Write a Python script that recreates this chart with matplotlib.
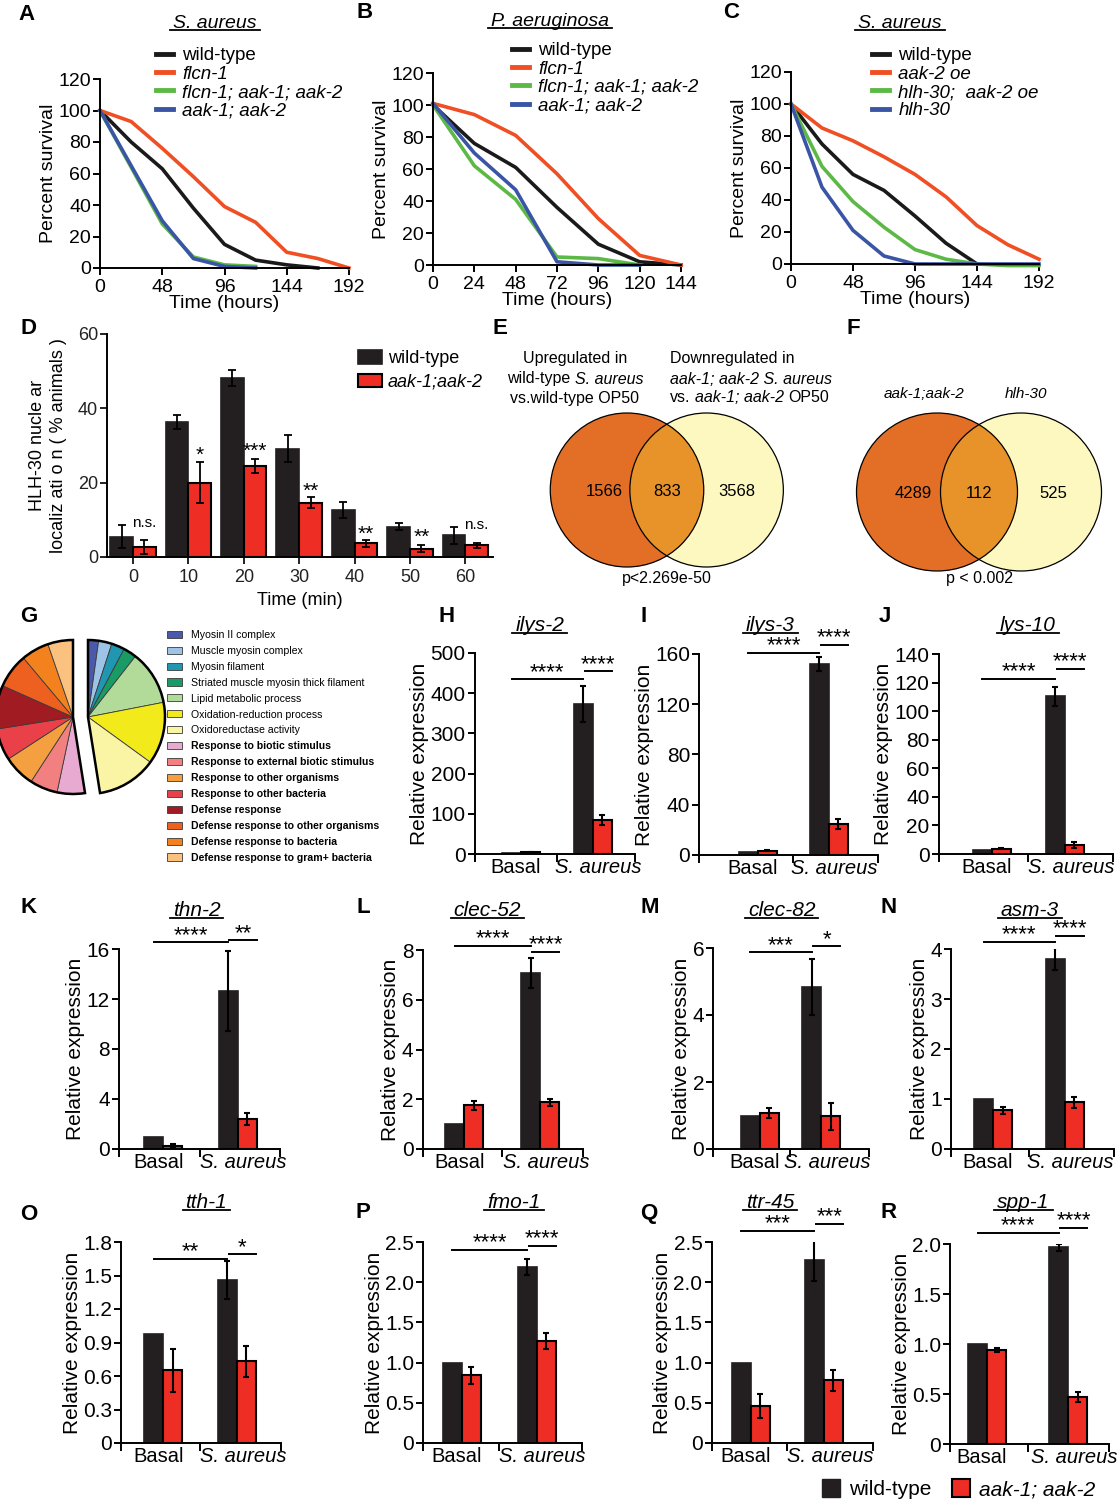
import numpy as np
import matplotlib
matplotlib.use("Agg")
import matplotlib.pyplot as plt
from matplotlib.patches import Ellipse, Patch
from matplotlib.lines import Line2D
from matplotlib.transforms import IdentityTransform

plt.rcParams['font.family'] = ['Liberation Sans', 'DejaVu Sans']
plt.rcParams['axes.linewidth'] = 1.4
for a in ('xtick', 'ytick'):
    plt.rcParams[a + '.major.width'] = 1.4
    plt.rcParams[a + '.major.size'] = 5
    plt.rcParams[a + '.major.pad'] = 1.5
    plt.rcParams[a + '.direction'] = 'out'

W, H = 1119, 1500
BLACK = '#231f20'
RED = '#ee2d24'
SURV_COLORS = ['#1a1a1a', '#f04e23', '#5cb946', '#3a55a5']

# ---------------- A-C: survival curves (percent alive vs hours) ----------------
a_t_wt = [0, 24, 48, 72, 96, 120, 144, 168]
a_wt = [100, 80, 63, 38, 15, 5, 2, 0]
a_t_flcn = [0, 24, 48, 72, 96, 120, 144, 168, 192]
a_flcn = [100, 93, 76, 58, 39, 29, 10, 6, 0]
a_t_triple = [0, 24, 48, 72, 96, 120]
a_triple = [100, 64, 28, 7, 2, 1]
a_t_aak = [0, 24, 48, 72, 96, 120]
a_aak = [100, 65, 30, 6, 1, 0]

b_t = [0, 24, 48, 72, 96, 120, 144]
b_wt = [100, 76, 61, 36, 13, 2, 0]
b_flcn = [101, 94, 81, 57, 29, 6, 0]
b_t_short = [0, 24, 48, 72, 96, 120]
b_triple = [100, 62, 41, 5, 4, 0]
b_aak = [101, 70, 47, 2, 0, 0]

c_t = [0, 24, 48, 72, 96, 120, 144, 168, 192]
c_t_wt = [0, 24, 48, 72, 96, 120, 144]
c_wt = [100, 75, 56, 46, 30, 13, 0]
c_oe = [100, 85, 77, 67, 56, 42, 24, 12, 3]
c_double = [100, 61, 39, 23, 9, 3, 0, -1, -1]
c_hlh = [100, 48, 21, 5, 0, 0, 0, 0, 0]

ab_labels = ['wild-type', 'flcn-1', 'flcn-1; aak-1; aak-2', 'aak-1; aak-2']
c_labels = ['wild-type', 'aak-2 oe', 'hlh-30;  aak-2 oe', 'hlh-30']

# ---------------- D: HLH-30 nuclear localization ----------------
d_times = [0, 10, 20, 30, 40, 50, 60]
d_wt = [5.5, 36.3, 48.2, 29.1, 12.7, 8.2, 5.9]
d_wt_err = [3.1, 1.8, 2.2, 3.6, 2.2, 0.9, 2.3]
d_aak = [2.7, 20.0, 24.5, 14.6, 3.7, 2.2, 3.1]
d_aak_err = [1.8, 5.5, 1.8, 1.5, 0.9, 0.9, 0.7]
d_sig = ['n.s.', '*', '***', '**', '**', '**', 'n.s.']
d_sig_y = [8.1, 26.0, 26.9, 16.3, 4.6, 3.8, 7.6]

# ---------------- E/F: Venn counts ----------------
e_counts = [1566, 833, 3568]
e_p = 'p<2.269e-50'
f_counts = [4289, 112, 525]
f_p = 'p < 0.002'

# ---------------- G: GO terms ----------------
go_terms = ['Myosin II complex', 'Muscle myosin complex', 'Myosin filament',
            'Striated muscle myosin thick filament', 'Lipid metabolic process',
            'Oxidation-reduction process', 'Oxidoreductase activity',
            'Response to biotic stimulus', 'Response to external biotic stimulus',
            'Response to other organisms', 'Response to other bacteria',
            'Defense response', 'Defense response to other organisms',
            'Defense response to bacteria', 'Defense response to gram+ bacteria']
go_deg = [8, 10, 10, 10, 41, 47, 45, 21, 21, 24, 24, 33, 26, 21, 19]
go_colors = ['#4b5aa8', '#9dc3e6', '#2196b0', '#1a9a64', '#b2db9a', '#f2ea1b', '#faf5a5',
             '#e8aad0', '#f28080', '#f5a040', '#e9404a', '#a01c22', '#ee6020', '#f3821e', '#fbc17e']

# ---------------- H-R: qPCR relative expression ----------------
genes = ['ilys-2', 'ilys-3', 'lys-10', 'thn-2', 'clec-52', 'clec-82', 'asm-3',
         'tth-1', 'fmo-1', 'ttr-45', 'spp-1']
conditions = ['Basal', 'S. aureus']
expr_wt = [[2, 373], [2, 152], [2.8, 110.3], [1.0, 12.66], [1.0, 7.06], [1.0, 4.84],
           [1.0, 3.81], [0.98, 1.46], [1.0, 2.19], [1.0, 2.28], [1.0, 1.97]]
expr_wt_err = [[0, 45], [0, 5.3], [0, 6.5], [0, 3.2], [0, 0.6], [0, 0.84], [0, 0.22],
               [0, 0.17], [0, 0.1], [0, 0.27], [0, 0.035]]
expr_mut = [[4, 85], [3.5, 24.7], [3.7, 6.3], [0.27, 2.4], [1.75, 1.87], [1.07, 0.98],
            [0.78, 0.94], [0.65, 0.73], [0.84, 1.27], [0.46, 0.78], [0.94, 0.47]]
expr_mut_err = [[1, 13], [0.5, 4], [0.5, 2], [0.1, 0.45], [0.17, 0.15], [0.15, 0.4],
                [0.07, 0.11], [0.19, 0.135], [0.1, 0.1], [0.145, 0.13], [0.02, 0.05]]
expr_ymax = [500, 160, 140, 16, 8, 6, 4, 1.8, 2.5, 2.5, 2.0]
expr_ystep = [100, 40, 20, 4, 2, 2, 1, 0.3, 0.5, 0.5, 0.5]
sig_long = ['****', '****', '****', '****', '****', '***', '****', '**', '****', '***', '****']
sig_short = ['****', '****', '****', '**', '****', '*', '****', '*', '****', '***', '****']
bracket_long = [435, 160.8, 122.7, 16.53, 8.17, 5.87, 4.14, 1.65, 2.40, 2.64, 2.11]
bracket_short = [455, 167.4, 129.7, 16.69, 7.92, 6.05, 4.27, 1.69, 2.45, 2.73, 2.16]

# panel placement in pixels: spine x, axis end x, y of 0, y of top, basal centre, S. aureus centre
expr_layout = [
    (474.7, 635.2, 854, 653, 521.0, 592.6),
    (699.4, 878.0, 855, 654, 757.6, 828.7),
    (938.7, 1113.0, 854, 654, 991.5, 1064.8),
    (118.9, 279.6, 1149, 949, 163.2, 237.5),
    (422.5, 583.2, 1149, 950, 464.3, 540.0),
    (713.3, 869.4, 1149, 948, 759.6, 821.3),
    (951.0, 1114.4, 1149, 949, 993.0, 1064.5),
    (121.4, 281.4, 1443, 1242, 163.2, 236.8),
    (423.2, 582.0, 1443, 1242, 461.7, 536.7),
    (711.5, 872.7, 1443, 1242, 750.7, 823.8),
    (950.4, 1109.0, 1444, 1244, 987.1, 1068.0),
]
expr_title_xy = [(539.8, 625), (770.5, 625), (1028, 625), (196.4, 910), (487.5, 910),
                 (781.7, 910), (1029.9, 910), (206.4, 1202), (514, 1202), (770.3, 1202),
                 (1023.5, 1202)]

fig = plt.figure(figsize=(W / 100, H / 100), dpi=100)
underlined = []


def fxy(x, y):
    return (x / W, 1 - y / H)


def add_ax(l, t, r, b):
    return fig.add_axes([l / W, 1 - b / H, (r - l) / W, (b - t) / H])


def clean(ax):
    ax.spines['top'].set_visible(False)
    ax.spines['right'].set_visible(False)


def title(x, y, s, size=15):
    t = fig.text(*fxy(x, y), s, fontsize=size, style='italic', ha='center', va='center')
    underlined.append(t)
    return t


def rich_line(x, y, parts, size, ha='left'):
    r = fig.canvas.get_renderer()
    space = 0.278 * size * fig.dpi / 72
    items = []
    cur = x
    for s, it in parts:
        t = fig.text(*fxy(cur, y), s, fontsize=size, style='italic' if it else 'normal',
                     ha='left', va='center')
        items.append((t, cur))
        cur += t.get_window_extent(renderer=r).width + space
    total = cur - space - x
    if ha == 'center':
        for t, x0 in items:
            t.set_x((x0 - total / 2) / W)


# ---------------- survival panels ----------------
def survival(box, xmax, xticks, curves, labels, ttl, ttl_xy, leg_xy):
    ax = add_ax(*box)
    lines = []
    for (t, y), c in zip(curves, SURV_COLORS):
        ln, = ax.plot(t, y, color=c, lw=2.6, clip_on=False, solid_joinstyle='round')
        lines.append(ln)
    ax.set_xlim(0, xmax)
    ax.set_ylim(0, 120)
    ax.set_xticks(xticks)
    ax.set_yticks(range(0, 121, 20))
    ax.tick_params(labelsize=14)
    ax.tick_params(axis='x', pad=3)
    ax.set_xlabel('Time (hours)', fontsize=14, labelpad=-1)
    ax.set_ylabel('Percent survival', fontsize=14, labelpad=1)
    clean(ax)
    leg = ax.legend(lines, labels, loc='upper left', bbox_to_anchor=fxy(*leg_xy),
                    bbox_transform=fig.transFigure, frameon=False, fontsize=13.5,
                    handlelength=0.9, handletextpad=0.5, labelspacing=0.07,
                    borderpad=0, borderaxespad=0)
    for t in leg.get_texts()[1:]:
        t.set_fontstyle('italic')
    for h in leg.legend_handles:
        h.set_linewidth(3.5)
    title(*ttl_xy, ttl, size=14)
    return ax


survival((100, 79, 349, 268), 192, [0, 48, 96, 144, 192],
         [(a_t_wt, a_wt), (a_t_flcn, a_flcn), (a_t_triple, a_triple), (a_t_aak, a_aak)],
         ab_labels, 'S. aureus', (215, 23), (156, 47))
survival((433, 73, 681, 265), 144, [0, 24, 48, 72, 96, 120, 144],
         [(b_t, b_wt), (b_t, b_flcn), (b_t_short, b_triple), (b_t_short, b_aak)],
         ab_labels, 'P. aeruginosa', (550, 21), (512, 42))
survival((791, 72, 1039, 264), 192, [0, 48, 96, 144, 192],
         [(c_t_wt, c_wt), (c_t, c_oe), (c_t, c_double), (c_t, c_hlh)],
         c_labels, 'S. aureus', (900, 23), (872, 47))

# ---------------- D ----------------
ax_d = add_ax(107, 334, 493, 557)
idx = np.arange(len(d_times))
bw = 0.41
b1 = ax_d.bar(idx - bw / 2, d_wt, bw, color=BLACK, edgecolor=BLACK, lw=1.2)
ax_d.errorbar(idx - bw / 2, d_wt, yerr=d_wt_err, fmt='none', ecolor='black',
              elinewidth=1.3, capsize=3, capthick=1.3)
b2 = ax_d.bar(idx + bw / 2, d_aak, bw, color=RED, edgecolor='black', lw=1.5)
ax_d.errorbar(idx + bw / 2, d_aak, yerr=d_aak_err, fmt='none', ecolor='black',
              elinewidth=1.3, capsize=3, capthick=1.3)
for i, s in enumerate(d_sig):
    ax_d.text(i + bw / 2, d_sig_y[i], s, ha='center', va='baseline',
              fontsize=15 if '*' in s else 11)
ax_d.set_xlim(-0.47, 6.5)
ax_d.set_ylim(0, 60)
ax_d.set_xticks(idx)
ax_d.set_xticklabels([str(t) for t in d_times])
ax_d.set_yticks([0, 20, 40, 60])
ax_d.tick_params(labelsize=13, colors='#222222')
ax_d.tick_params(axis='x', pad=4)
ax_d.set_xlabel('Time (min)', fontsize=13, labelpad=4)
ax_d.set_ylabel('HLH-30 nucle ar\nlocaliz ati o n ( % animals )', fontsize=13,
                labelpad=8, linespacing=1.25)
clean(ax_d)
leg_d = ax_d.legend([b1, b2], ['wild-type', 'aak-1;aak-2'], loc='upper left',
                    bbox_to_anchor=fxy(358, 350), bbox_transform=fig.transFigure,
                    frameon=False, fontsize=13, handlelength=1.35, handleheight=0.8,
                    handletextpad=0.3, labelspacing=0.35, borderpad=0, borderaxespad=0)
leg_d.get_texts()[1].set_fontstyle('italic')

# ---------------- E / F Venn ----------------
ORANGE, YELLOW, OVER = '#e36f26', '#fcf8c0', '#e8922a'
ax_v = add_ax(500, 330, 1119, 600)
ax_v.set_xlim(500, 1119)
ax_v.set_ylim(600, 330)
ax_v.axis('off')


def venn(c1, c2, size, counts, p, p_y):
    e1 = Ellipse(c1, *size, facecolor=ORANGE, edgecolor='none')
    ax_v.add_patch(e1)
    ax_v.add_patch(Ellipse(c2, *size, facecolor=YELLOW, edgecolor='none'))
    e3 = Ellipse(c2, *size, facecolor=OVER, edgecolor='none')
    ax_v.add_patch(e3)
    e3.set_clip_path(e1)
    for c in (c1, c2):
        ax_v.add_patch(Ellipse(c, *size, fill=False, edgecolor='black', lw=0.9))
    xs = [c1[0] - size[0] * 0.15, (c1[0] + c2[0]) / 2, c2[0] + size[0] * 0.2]
    for x, n in zip(xs, counts):
        ax_v.text(x, c1[1] + 2, str(n), fontsize=12, ha='center', va='center')
    ax_v.text((c1[0] + c2[0]) / 2, p_y, p, fontsize=11.5, ha='center', va='center')


venn((627, 490), (706.6, 490), (153.5, 154), e_counts, e_p, 579)
venn((937, 492), (1021, 492), (161, 158), f_counts, f_p, 579)

rich_line(575, 359, [('Upregulated in', False)], 11.5, 'center')
rich_line(575, 379, [('wild-type', False), ('S. aureus', True)], 11.5, 'center')
rich_line(575, 398, [('vs.wild-type OP50', False)], 11.5, 'center')
rich_line(670, 359, [('Downregulated in', False)], 11.5)
rich_line(670, 379, [('aak-1; aak-2 S. aureus', True)], 11.5)
rich_line(670, 398, [('vs.', False), ('aak-1; aak-2', True), ('OP50', False)], 11.5)
fig.text(*fxy(924, 394), 'aak-1;aak-2', fontsize=11, style='italic', ha='center', va='center')
fig.text(*fxy(1026, 394), 'hlh-30', fontsize=11, style='italic', ha='center', va='center')

# ---------------- G pie ----------------
ax_g = add_ax(0, 630, 175, 805)
n_r = 7
right = np.array(go_deg[:n_r]) / 360
left = np.array(go_deg[n_r:]) / 360
wp = dict(edgecolor='#3a3a3a', linewidth=0.6)
w_r, _ = ax_g.pie(right, normalize=False, colors=go_colors[:n_r], startangle=90,
                  counterclock=False, radius=77, center=(88, -717), wedgeprops=wp)
w_l, _ = ax_g.pie(left, normalize=False, colors=go_colors[n_r:],
                  startangle=90 - right.sum() * 360, counterclock=False, radius=77,
                  center=(73, -717), wedgeprops=wp)
ax_g.pie([right.sum()], normalize=False, startangle=90, counterclock=False, radius=77,
         center=(88, -717), wedgeprops=dict(fill=False, edgecolor='black', linewidth=1.8))
ax_g.pie([left.sum()], normalize=False, startangle=90 - right.sum() * 360,
         counterclock=False, radius=77, center=(73, -717),
         wedgeprops=dict(fill=False, edgecolor='black', linewidth=1.8))
ax_g.set_xlim(0, 175)
ax_g.set_ylim(-805, -630)
ax_g.axis('off')
leg_g = fig.legend(list(w_r) + list(w_l), go_terms, loc='upper left',
                   bbox_to_anchor=fxy(167, 630), frameon=False, fontsize=7.6,
                   handlelength=1.45, handleheight=0.66, handletextpad=0.8,
                   labelspacing=0.56, borderpad=0, borderaxespad=0)
for t in leg_g.get_texts()[n_r:]:
    t.set_fontweight('bold')

# ---------------- H-R expression bars ----------------
for i, g in enumerate(genes):
    sx, ex, y0, yt, cb, cs = expr_layout[i]
    sp = cs - cb
    ax = add_ax(sx, yt, ex, y0)
    x0 = 0.5 - (cb - sx) / sp
    x1 = 1.5 + (ex - cs) / sp
    w = 19 / sp
    centers = np.array([0.5, 1.5])
    ax.bar(centers - w / 2, expr_wt[i], w, color=BLACK, edgecolor=BLACK, lw=1.2)
    ax.bar(centers + w / 2, expr_mut[i], w, color=RED, edgecolor='black', lw=1.5)
    for k in range(2):
        if expr_wt_err[i][k] > 0:
            ax.errorbar(centers[k] - w / 2, expr_wt[i][k], yerr=expr_wt_err[i][k], fmt='none',
                        ecolor='black', elinewidth=1.5, capsize=2, capthick=1.5)
        ax.errorbar(centers[k] + w / 2, expr_mut[i][k], yerr=expr_mut_err[i][k], fmt='none',
                    ecolor='black', elinewidth=1.5, capsize=2, capthick=1.5)
    # significance brackets
    xa, xb, xc = 0.5 - w / 2, 1.5 - w / 2, 1.5 + w
    for (u, v), yl, s in (((xa, xb), bracket_long[i], sig_long[i]),
                          ((xb + 0.02, xc), bracket_short[i], sig_short[i])):
        ax.plot([u, v], [yl, yl], color='black', lw=1.4, clip_on=False)
        ax.annotate(s, xy=((u + v) / 2, yl), xytext=(0, 1), textcoords='offset points',
                    ha='center', va='baseline', fontsize=16, annotation_clip=False)
    ax.set_xlim(x0, x1)
    ax.set_ylim(0, expr_ymax[i])
    ticks = np.round(np.arange(0, expr_ymax[i] + expr_ystep[i] / 2, expr_ystep[i]), 2)
    ax.set_yticks(ticks)
    if expr_ystep[i] < 1:
        ax.set_yticklabels(['0'] + ['%.1f' % v for v in ticks[1:]])
    else:
        ax.set_yticklabels(['%d' % v for v in ticks])
    ax.set_xticks([x0, 1.0, x1])
    ax.set_xticklabels([])
    ax.tick_params(axis='x', which='major', length=6)
    ax.set_xticks([0.5 - 5 / sp, 1.5 + 6 / sp], minor=True)
    lbl = ax.set_xticklabels(conditions, minor=True)
    lbl[1].set_fontstyle('italic')
    ax.tick_params(axis='x', which='minor', length=0, labelsize=14.5, pad=3)
    ax.tick_params(axis='y', labelsize=15)
    ax.set_ylabel('Relative expression', fontsize=15, labelpad=1)
    clean(ax)
    title(*expr_title_xy[i], g)

leg_b = fig.legend([Patch(facecolor=BLACK, edgecolor=BLACK),
                    Patch(facecolor=RED, edgecolor='black', lw=1.5)],
                   ['wild-type', 'aak-1; aak-2'], ncol=2, loc='center left',
                   bbox_to_anchor=fxy(822, 1489), frameon=False, fontsize=15,
                   handlelength=0.87, handleheight=0.95, handletextpad=0.43,
                   columnspacing=1.0, borderpad=0, borderaxespad=0)
leg_b.get_texts()[1].set_fontstyle('italic')

# ---------------- panel letters ----------------
letters = [('A', 18, 14), ('B', 357, 12), ('C', 723, 12), ('D', 20, 328), ('E', 493, 328),
           ('F', 847, 328), ('G', 20, 617), ('H', 439, 617), ('I', 641, 617), ('J', 879, 617),
           ('K', 20, 908), ('L', 357, 908), ('M', 640, 908), ('N', 881, 908), ('O', 20, 1215),
           ('P', 355, 1213), ('Q', 640, 1213), ('R', 881, 1213)]
for s, x, y in letters:
    fig.text(*fxy(x, y), s, fontsize=16, fontweight='bold', ha='left', va='center')

# underline the italic titles
fig.canvas.draw()
for t in underlined:
    bb = t.get_window_extent()
    fig.add_artist(Line2D([bb.x0 - 3, bb.x1 + 3], [bb.y0 + 1.5, bb.y0 + 1.5],
                          transform=IdentityTransform(), color='black', lw=1.3))

fig.savefig('out.png', dpi=100)
